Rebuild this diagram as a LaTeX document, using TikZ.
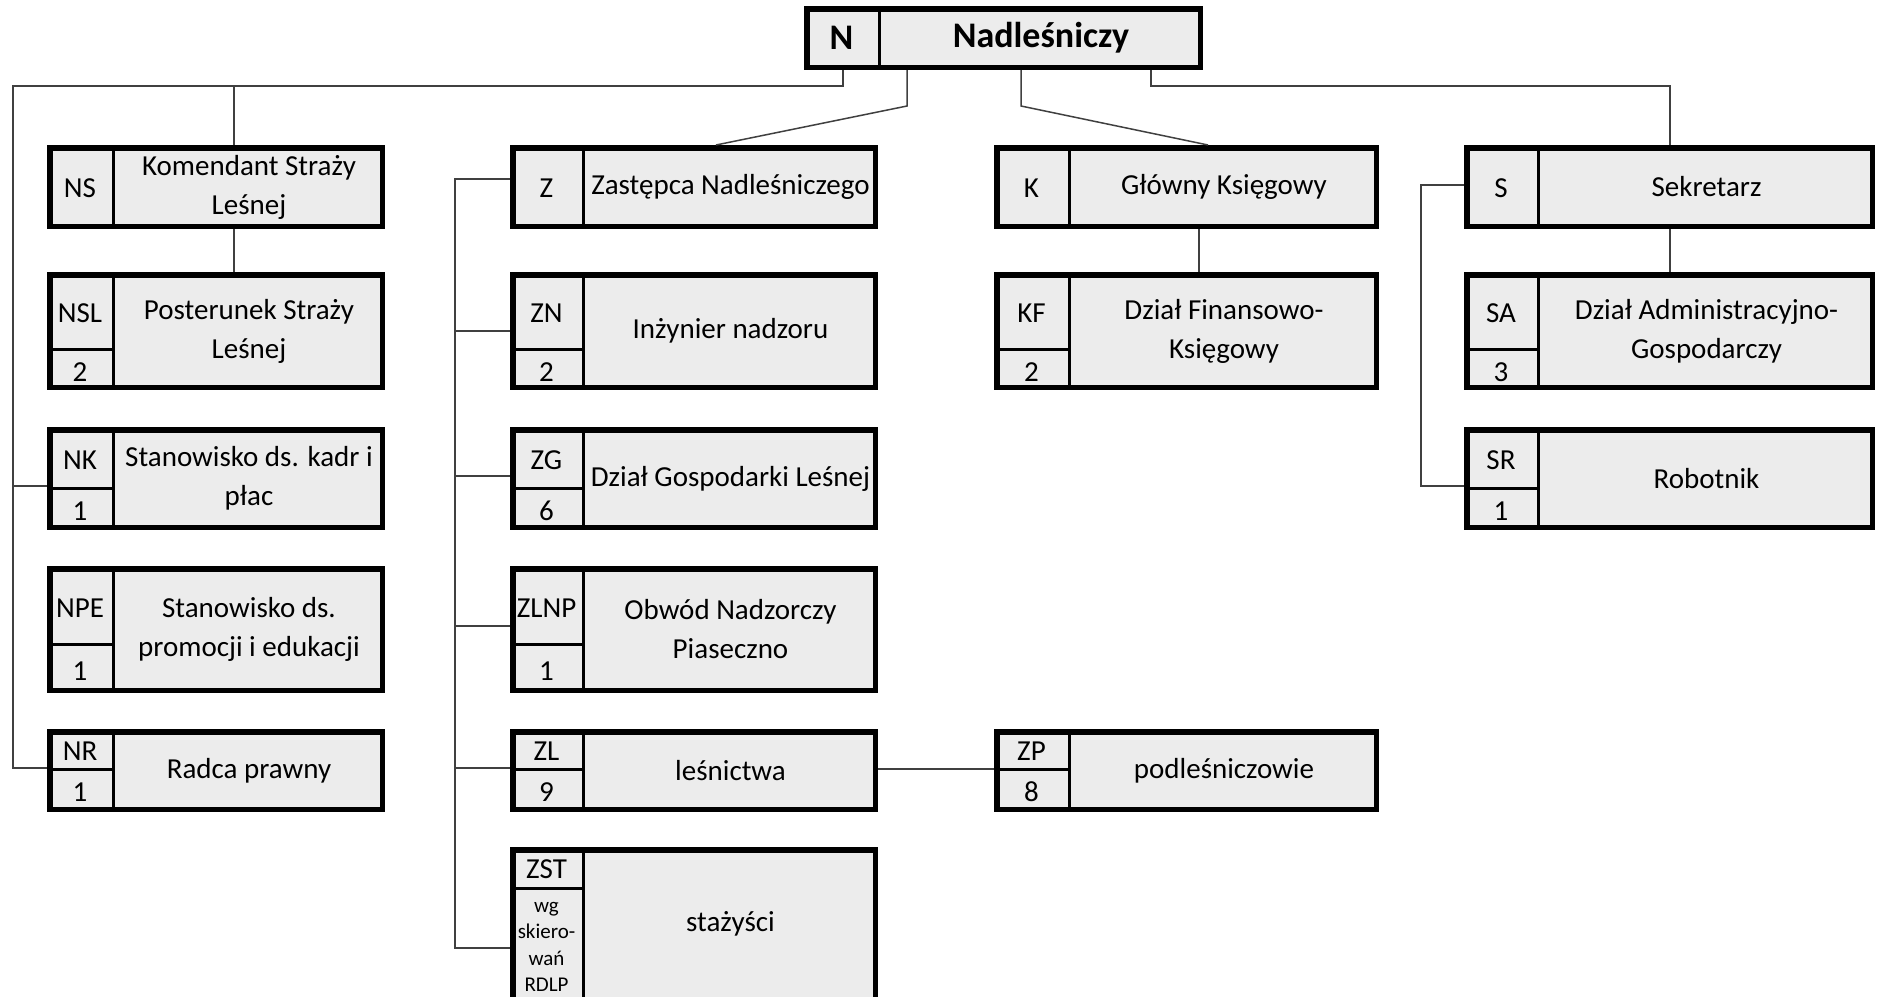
\documentclass[tikz,border=0pt]{standalone}
\usepackage{fontspec}
\setmainfont{Carlito}
\usetikzlibrary{fit}
\definecolor{boxfill}{HTML}{ECECEC}
\definecolor{linegray}{HTML}{404040}
\newcommand{\frm}[6]{%
  \node[frame, fit={(#2+2.75,#3+2.75) (#4-2.75,#5-2.75)}] (#1) {};
  \draw[divline] (#6,#3+2.75) -- (#6,#5-2.75);}
\newcommand{\subln}[3]{\draw[divline] (#1+2.75,#3) -- (#2,#3);}
\tikzset{
  frame/.style={draw=black, line width=2.75pt, fill=boxfill, inner sep=0pt},
  divline/.style={line width=1.5pt, line cap=rect},
  conn/.style={draw=linegray, line width=0.75pt},
  lbl/.style={inner sep=0pt, align=center, font=\fontsize{14.5pt}{19.5pt}\selectfont},
  small/.style={inner sep=0pt, align=center, font=\fontsize{10.5pt}{13.25pt}\selectfont},
  big/.style={inner sep=0pt, font=\bfseries\fontsize{18pt}{22pt}\selectfont}
}
\begin{document}
\begin{tikzpicture}[x=0.5pt, y=-0.5pt]
\useasboundingbox (0,0) rectangle (1878,996);
% ---- boxes ----
\frm{N}{804}{6}{1203}{70}{879}
\node[big] (N-c) at (841.5,38) {N};
\node[big] (N-t) at (1041,38) {Nadleśniczy};
% column 1
\frm{NS}{47}{145}{385}{229}{113}
\node[lbl] (NS-c) at (80,188) {NS};
\node[lbl] (NS-t) at (249,187) {Komendant Straży\\Leśnej};
\frm{NSL}{47}{272}{385}{390}{113}
\subln{47}{113}{349}
\node[lbl] (NSL-c) at (80,313) {NSL};
\node[lbl] (NSL-n) at (80,372) {2};
\node[lbl] (NSL-t) at (249,331) {Posterunek Straży\\Leśnej};
\frm{NK}{47}{427}{385}{530}{113}
\subln{47}{113}{488}
\node[lbl] (NK-c) at (80,460) {NK};
\node[lbl] (NK-n) at (80,511) {1};
\node[lbl] (NK-t) at (249,478.5) {Stanowisko ds. kadr i\\płac};
\frm{NPE}{47}{566}{385}{693}{113}
\subln{47}{113}{644}
\node[lbl] (NPE-c) at (80,608) {NPE};
\node[lbl] (NPE-n) at (80,671) {1};
\node[lbl] (NPE-t) at (249,629.5) {Stanowisko ds.\\promocji i edukacji};
\frm{NR}{47}{729}{385}{812}{113}
\subln{47}{113}{769}
\node[lbl] (NR-c) at (80,751) {NR};
\node[lbl] (NR-n) at (80,792) {1};
\node[lbl] (NR-t) at (249,770.5) {Radca prawny};
% column 2
\frm{Z}{510}{145}{878}{229}{583}
\node[lbl] (Z-c) at (546.5,188) {Z};
\node[lbl] (Z-t) at (730.5,187) {Zastępca Nadleśniczego};
\frm{ZN}{510}{272}{878}{390}{583}
\subln{510}{583}{349}
\node[lbl] (ZN-c) at (546.5,313) {ZN};
\node[lbl] (ZN-n) at (546.5,372) {2};
\node[lbl] (ZN-t) at (730.5,331) {Inżynier nadzoru};
\frm{ZG}{510}{427}{878}{530}{583}
\subln{510}{583}{488}
\node[lbl] (ZG-c) at (546.5,460) {ZG};
\node[lbl] (ZG-n) at (546.5,511) {6};
\node[lbl] (ZG-t) at (730.5,478.5) {Dział Gospodarki Leśnej};
\frm{ZLNP}{510}{566}{878}{693}{583}
\subln{510}{583}{644}
\node[lbl] (ZLNP-c) at (546.5,608) {ZLNP};
\node[lbl] (ZLNP-n) at (546.5,671) {1};
\node[lbl] (ZLNP-t) at (730.5,629.5) {Obwód Nadzorczy\\Piaseczno};
\frm{ZL}{510}{729}{878}{812}{583}
\subln{510}{583}{769}
\node[lbl] (ZL-c) at (546.5,751) {ZL};
\node[lbl] (ZL-n) at (546.5,792) {9};
\node[lbl] (ZL-t) at (730.5,770.5) {leśnictwa};
\frm{ZST}{510}{847}{878}{1010}{583}
\subln{510}{583}{888}
\node[lbl] (ZST-c) at (546.5,869) {ZST};
\node[small] (ZST-n) at (546.5,947) {wg\\skiero-\\wań\\RDLP};
\node[lbl] (ZST-t) at (730.5,924) {stażyści};
% column 3
\frm{K}{994}{145}{1379}{229}{1069}
\node[lbl] (K-c) at (1031.5,188) {K};
\node[lbl] (K-t) at (1224,187) {Główny Księgowy};
\frm{KF}{994}{272}{1379}{390}{1069}
\subln{994}{1069}{349}
\node[lbl] (KF-c) at (1031.5,313) {KF};
\node[lbl] (KF-n) at (1031.5,372) {2};
\node[lbl] (KF-t) at (1224,331) {Dział Finansowo-\\Księgowy};
\frm{ZP}{994}{729}{1379}{812}{1069}
\subln{994}{1069}{769}
\node[lbl] (ZP-c) at (1031.5,751) {ZP};
\node[lbl] (ZP-n) at (1031.5,792) {8};
\node[lbl] (ZP-t) at (1224,770.5) {podleśniczowie};
% column 4
\frm{S}{1464}{145}{1875}{229}{1538}
\node[lbl] (S-c) at (1501,188) {S};
\node[lbl] (S-t) at (1706.5,187) {Sekretarz};
\frm{SA}{1464}{272}{1875}{390}{1538}
\subln{1464}{1538}{349}
\node[lbl] (SA-c) at (1501,313) {SA};
\node[lbl] (SA-n) at (1501,372) {3};
\node[lbl] (SA-t) at (1706.5,331) {Dział Administracyjno-\\Gospodarczy};
\frm{SR}{1464}{427}{1875}{530}{1538}
\subln{1464}{1538}{488}
\node[lbl] (SR-c) at (1501,460) {SR};
\node[lbl] (SR-n) at (1501,511) {1};
\node[lbl] (SR-t) at (1706.5,478.5) {Robotnik};
% ---- connectors ----
\draw[conn] (N.south -| 843,0) -- (843,86) -- (13,86) -- (13,768) -- (NR.west |- 0,768);
\draw[conn] (13,486) -- (NK.west |- 0,486);
\draw[conn] (234,86) -- (NS.north -| 234,0);
\draw[conn] (NS.south -| 234,0) -- (NSL.north -| 234,0);
\draw[conn] (N.south -| 907,0) -- (907,106) -- (Z.north -| 716,0);
\draw[conn] (N.south -| 1021,0) -- (1021,106) -- (K.north -| 1208,0);
\draw[conn] (N.south -| 1151,0) -- (1151,86) -- (1670,86) -- (S.north -| 1670,0);
\draw[conn] (S.south -| 1670,0) -- (SA.north -| 1670,0);
\draw[conn] (S.west |- 0,185) -- (1421,185) -- (1421,486) -- (SR.west |- 0,486);
\draw[conn] (K.south -| 1199,0) -- (KF.north -| 1199,0);
\draw[conn] (Z.west |- 0,179) -- (455,179) -- (455,948) -- (ZST.west |- 0,948);
\draw[conn] (455,331) -- (ZN.west |- 0,331);
\draw[conn] (455,476) -- (ZG.west |- 0,476);
\draw[conn] (455,626) -- (ZLNP.west |- 0,626);
\draw[conn] (455,768) -- (ZL.west |- 0,768);
\draw[conn] (ZL.east |- 0,769) -- (ZP.west |- 0,769);
\end{tikzpicture}
\end{document}
